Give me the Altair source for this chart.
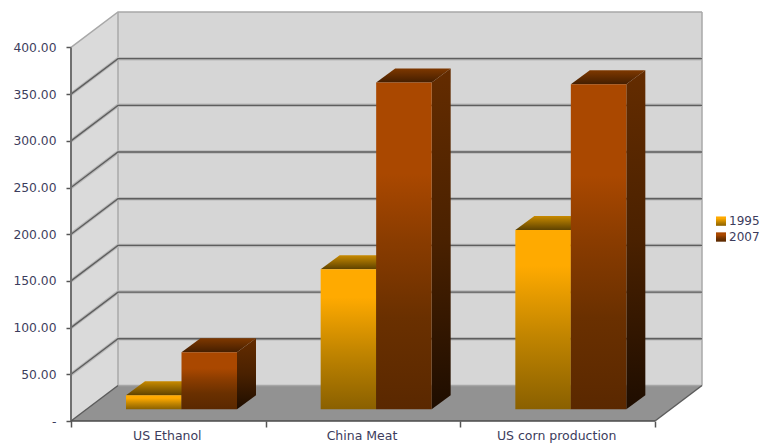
import altair as alt
import pandas as pd

# Chart values
categories = ["US Ethanol", "China Meat", "US corn production"]
series_names = ["1995", "2007"]
values_1995 = [15, 150, 192]
values_2007 = [61, 350, 348]
tick_values = [0, 50, 100, 150, 200, 250, 300, 350, 400]

# Pseudo-3D box geometry, in scale units
FRONT_W = 584          # width of the front plane
BAND = FRONT_W / 3
WALL_DX, WALL_DY = 47, 38    # depth of the room
BAR_DX, BAR_DY = 19, 15      # depth of a bar
BAR_W = 55.5
BAR_GAP = 55
FLOOR_LIFT = 12.5      # bars stand part-way back on the floor
Y_MAX = 400
X_DOMAIN = [0, 631]
Y_DOMAIN = [0, 439]

X = alt.Scale(domain=X_DOMAIN, nice=False, zero=False)
Y = alt.Scale(domain=Y_DOMAIN, nice=False, zero=False)
FONT = "DejaVu Sans"
TEXT = "#3c3c5c"


def grad(*stops):
    return alt.LinearGradient(
        gradient="linear", x1=0, x2=0, y1=0, y2=1,
        stops=[alt.GradientStop(offset=o, color=c) for o, c in stops],
    )


def vertical_area(rows, fill):
    return alt.Chart(pd.DataFrame(rows)).mark_area(
        color=fill, orient="vertical", line=False, clip=False
    ).encode(
        x=alt.X("x:Q", scale=X, axis=None),
        y=alt.Y("y:Q", scale=Y, axis=None),
        y2="y2:Q",
        detail="k:N",
    )


def horizontal_area(rows, fill):
    return alt.Chart(pd.DataFrame(rows)).mark_area(
        color=fill, orient="horizontal", line=False, clip=False
    ).encode(
        y=alt.Y("y:Q", scale=Y, axis=None),
        x=alt.X("x:Q", scale=X, axis=None),
        x2="x2:Q",
        detail="k:N",
    )


def path(rows, color, width):
    return alt.Chart(pd.DataFrame(rows)).mark_line(
        color=color, strokeWidth=width, clip=False
    ).encode(
        x=alt.X("x:Q", scale=X, axis=None),
        y=alt.Y("y:Q", scale=Y, axis=None),
        detail="k:N",
        order="o:Q",
    )


def room_line(v):
    return [
        {"k": v, "o": 0, "x": 0, "y": v},
        {"k": v, "o": 1, "x": WALL_DX, "y": v + WALL_DY},
        {"k": v, "o": 2, "x": X_DOMAIN[1], "y": v + WALL_DY},
    ]


layers = []

# Walls and floor
layers.append(vertical_area(
    [{"k": 0, "x": WALL_DX, "y": WALL_DY, "y2": Y_MAX + WALL_DY},
     {"k": 0, "x": X_DOMAIN[1], "y": WALL_DY, "y2": Y_MAX + WALL_DY}], "#d6d6d6"))
layers.append(vertical_area(
    [{"k": 0, "x": 0, "y": 0, "y2": Y_MAX},
     {"k": 0, "x": WALL_DX, "y": WALL_DY, "y2": Y_MAX + WALL_DY}], "#dadada"))
layers.append(horizontal_area(
    [{"k": 0, "y": 0, "x": 0, "x2": FRONT_W},
     {"k": 0, "y": WALL_DY, "x": WALL_DX, "x2": X_DOMAIN[1]}], "#929292"))

# Room outline
layers.append(path(room_line(Y_MAX), "#a8a8a8", 1.5))
layers.append(path(room_line(0)[1:], "#a6a6a6", 1.5))
layers.append(path(
    [{"k": 0, "o": 0, "x": WALL_DX, "y": WALL_DY},
     {"k": 0, "o": 1, "x": WALL_DX, "y": Y_MAX + WALL_DY}], "#a8a8a8", 1.5))
layers.append(path(
    [{"k": 0, "o": 0, "x": X_DOMAIN[1], "y": WALL_DY},
     {"k": 0, "o": 1, "x": X_DOMAIN[1], "y": Y_MAX + WALL_DY}], "#a8a8a8", 1.5))

# Gridlines: a soft halo under a darker core
grid = [r for v in tick_values[1:-1] for r in room_line(v)]
layers.append(path(grid, "#b8b8b8", 3.5))
layers.append(path(grid, "#5e5e5e", 1.4))

# Lower edges of the floor
layers.append(path(room_line(0)[:2], "#5c5c5c", 1.5))
layers.append(path(
    [{"k": 0, "o": 0, "x": FRONT_W, "y": 0},
     {"k": 0, "o": 1, "x": X_DOMAIN[1], "y": WALL_DY}], "#5c5c5c", 1.5))

# Bars, drawn back to front
palettes = {
    "1995": {
        "front": grad((0, "#ffaa00"), (0.2, "#ffaa00"), (0.6, "#c08400"), (1, "#8a6000")),
        "top": grad((0, "#c88a00"), (1, "#5e4200")),
        "side": grad((0, "#7a5500"), (1, "#3a2800")),
    },
    "2007": {
        "front": grad((0, "#aa4800"), (0.28, "#aa4800"), (0.48, "#8a3c00"),
                      (0.72, "#6a3000"), (1, "#5a2800")),
        "top": grad((0, "#7e3800"), (1, "#441e00")),
        "side": grad((0, "#642c00"), (0.5, "#4a2100"), (1, "#1e0d00")),
    },
}

for s, (name, vals) in enumerate(zip(series_names, [values_1995, values_2007])):
    pal = palettes[name]
    for c, v in enumerate(vals):
        x0 = BAND * c + BAR_GAP + s * BAR_W
        x1 = x0 + BAR_W
        base, top = FLOOR_LIFT, FLOOR_LIFT + v
        layers.append(horizontal_area(
            [{"k": 0, "y": top, "x": x0, "x2": x1},
             {"k": 0, "y": top + BAR_DY, "x": x0 + BAR_DX, "x2": x1 + BAR_DX}], pal["top"]))
        layers.append(vertical_area(
            [{"k": 0, "x": x1, "y": base, "y2": top},
             {"k": 0, "x": x1 + BAR_DX, "y": base + BAR_DY, "y2": top + BAR_DY}], pal["side"]))
        layers.append(alt.Chart(pd.DataFrame(
            [{"x": x0, "x2": x1, "y": base, "y2": top}]
        )).mark_rect(color=pal["front"]).encode(
            x=alt.X("x:Q", scale=X, axis=None), x2="x2:Q",
            y=alt.Y("y:Q", scale=Y, axis=None), y2="y2:Q",
        ))

# Front axes: lines drawn up to the top tick and along the front plane
layers.append(path(
    [{"k": 0, "o": 0, "x": 0, "y": 0}, {"k": 0, "o": 1, "x": 0, "y": Y_MAX}], "#707070", 2))
layers.append(path(
    [{"k": 0, "o": 0, "x": 0, "y": 0}, {"k": 0, "o": 1, "x": FRONT_W, "y": 0}], "#4a4a4a", 1.5))

axes = alt.Chart(pd.DataFrame({"x": [0], "y": [0]})).mark_point(opacity=0).encode(
    x=alt.X("x:Q", scale=X, title=None, axis=alt.Axis(
        values=[BAND * i for i in range(4)], labels=False, domain=False, grid=False,
        tickColor="#555555", tickWidth=1.5, tickSize=6)),
    y=alt.Y("y:Q", scale=Y, title=None, axis=alt.Axis(
        values=tick_values, domain=False, grid=False,
        tickColor="#555555", tickWidth=1.5, tickSize=5, labelPadding=10,
        labelFont=FONT, labelFontSize=12.3, labelColor=TEXT,
        labelExpr="datum.value === 0 ? '-' : format(datum.value, '.2f')")),
)
layers.append(axes)

# Category labels under the front plane
layers.append(alt.Chart(pd.DataFrame({
    "label": categories,
    "x": [BAND * (i + 0.5) - 1 for i in range(3)],
    "y": [-16.4] * 3,
})).mark_text(font=FONT, fontSize=12.5, color=TEXT, baseline="middle").encode(
    x=alt.X("x:Q", scale=X, axis=None),
    y=alt.Y("y:Q", scale=Y, axis=None),
    text="label:N",
))

# Legend with gradient swatches
LEGEND_X = 645
LEGEND_W = 10
for name, y_top in zip(series_names, [219, 202]):
    layers.append(alt.Chart(pd.DataFrame(
        [{"x": LEGEND_X, "x2": LEGEND_X + LEGEND_W, "y": y_top - 10, "y2": y_top}]
    )).mark_rect(color=palettes[name]["front"], clip=False).encode(
        x=alt.X("x:Q", scale=X, axis=None), x2="x2:Q",
        y=alt.Y("y:Q", scale=Y, axis=None), y2="y2:Q",
    ))
    layers.append(alt.Chart(pd.DataFrame(
        [{"x": LEGEND_X + LEGEND_W + 3, "y": y_top - 5, "t": name}]
    )).mark_text(font=FONT, fontSize=12, color=TEXT, align="left", baseline="middle").encode(
        x=alt.X("x:Q", scale=X, axis=None),
        y=alt.Y("y:Q", scale=Y, axis=None),
        text="t:N",
    ))

chart = alt.layer(*layers).resolve_axis(x="independent", y="independent").properties(
    width=631,
    height=410,
    autosize=alt.AutoSizeParams(type="none"),
    padding={"left": 71, "top": 11, "right": 58, "bottom": 23},
    background="#ffffff",
).configure_view(stroke=None)

chart.save("out.html", embed_options={"renderer": "svg", "actions": False})
